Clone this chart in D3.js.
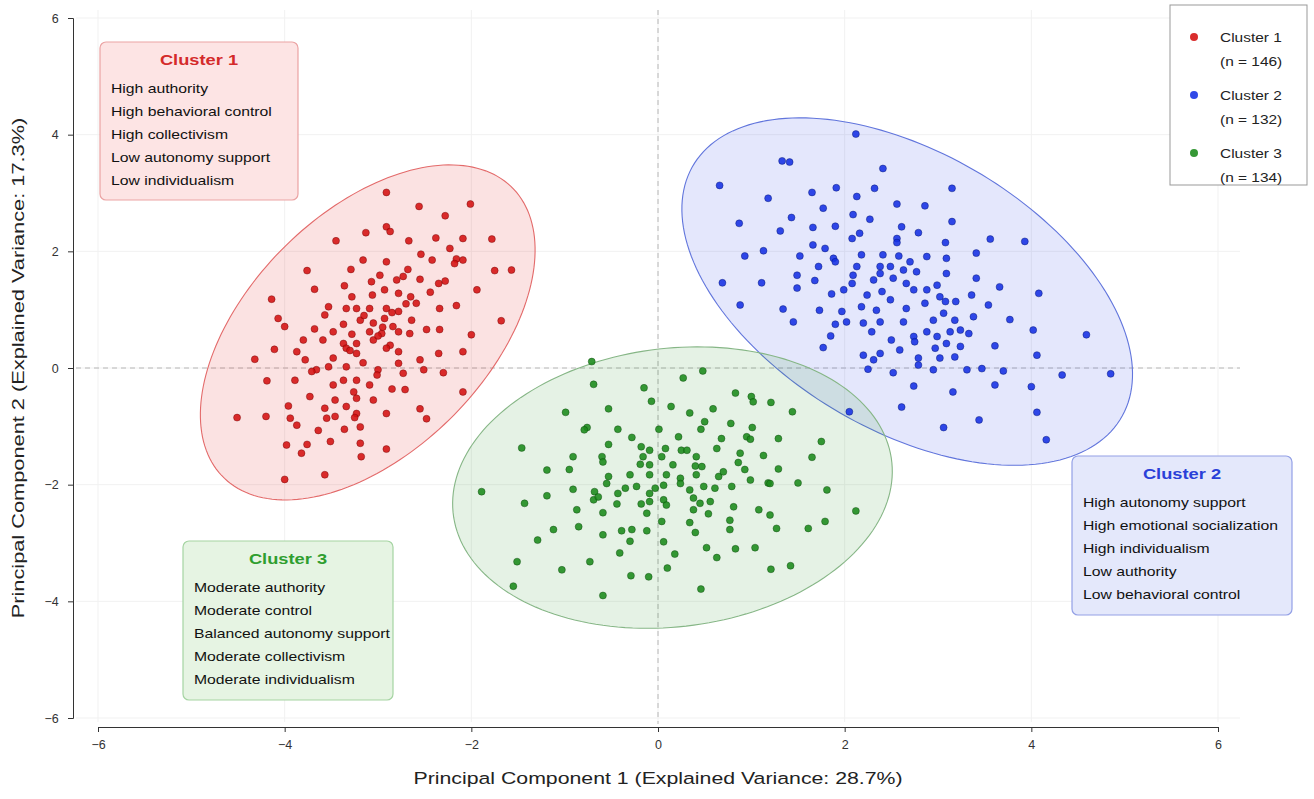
<!DOCTYPE html>
<html>
<head>
<meta charset="utf-8">
<script src="https://cdn.jsdelivr.net/npm/d3@7"></script>
<style>
  body { margin: 0; background: #fff; }
  svg { font-family: "Liberation Sans", Arial, sans-serif; }
</style>
</head>
<body>
<svg id="chart" width="1314" height="799"></svg>
<script>
// ---- data (PC1, PC2 scores) ----
const cluster1Points = [
  [-2.91, 3.01], [-2.56, 2.77], [-2.01, 2.81], [-2.28, 2.61], [-2.91, 2.42], [-2.87, 2.34], [-3.13, 2.32],
  [-3.45, 2.18], [-2.67, 2.18], [-2.38, 2.23], [-2.09, 2.22], [-1.78, 2.21], [-2.23, 2.05],
  [-3.16, 1.85], [-2.91, 1.82], [-2.54, 1.95], [-2.42, 1.85], [-2.16, 1.87], [-2.09, 1.85], [-2.18, 1.79],
  [-3.76, 1.67], [-3.29, 1.69], [-2.68, 1.69], [-1.75, 1.67], [-1.57, 1.68], [-2.98, 1.59], [-2.73, 1.57],
  [-2.80, 1.51], [-3.68, 1.35], [-3.36, 1.41], [-3.07, 1.48], [-2.55, 1.52], [-2.28, 1.49], [-2.35, 1.45],
  [-1.94, 1.34], [-3.28, 1.22], [-3.06, 1.25], [-2.93, 1.34], [-2.78, 1.28], [-2.65, 1.22], [-2.44, 1.30],
  [-4.14, 1.18], [-3.53, 1.05], [-3.34, 1.02], [-3.23, 1.02], [-3.09, 1.02], [-2.91, 1.02], [-2.78, 0.97],
  [-2.59, 1.11], [-2.34, 1.02], [-2.16, 1.07], [-4.07, 0.85], [-4.00, 0.71], [-3.57, 0.91], [-3.37, 0.75],
  [-3.19, 0.82], [-3.05, 0.77], [-2.93, 0.85], [-2.84, 0.71], [-2.64, 0.82], [-2.48, 0.66], [-2.34, 0.66],
  [-1.68, 0.81], [-3.68, 0.67], [-3.48, 0.62], [-3.28, 0.58], [-3.09, 0.62], [-2.96, 0.59], [-2.78, 0.62],
  [-2.00, 0.57], [-3.80, 0.48], [-3.59, 0.48], [-3.37, 0.42], [-3.23, 0.42], [-3.05, 0.48], [-2.87, 0.39],
  [-2.66, 0.59], [-4.32, 0.15], [-4.11, 0.32], [-3.87, 0.28], [-3.78, 0.14], [-3.48, 0.17], [-3.34, 0.34],
  [-3.23, 0.25], [-2.91, 0.34], [-2.78, 0.28], [-2.55, 0.14], [-2.35, 0.25], [-2.09, 0.28], [-3.66, -0.03],
  [-3.53, 0.02], [-3.34, 0.02], [-3.16, 0.09], [-3.00, -0.03], [-2.78, 0.08], [-2.73, -0.09], [-2.51, -0.03],
  [-2.30, -0.08], [-4.19, -0.22], [-3.89, -0.21], [-3.71, -0.06], [-3.37, -0.21], [-3.23, -0.21], [-3.01, -0.12],
  [-3.48, -0.29], [-3.26, -0.41], [-3.09, -0.29], [-2.85, -0.36], [-2.71, -0.37], [-2.09, -0.41], [-3.73, -0.49],
  [-3.46, -0.55], [-3.23, -0.52], [-3.05, -0.55], [-3.96, -0.65], [-3.57, -0.69], [-3.34, -0.66], [-2.55, -0.70],
  [-4.51, -0.85], [-4.20, -0.83], [-3.94, -0.86], [-3.87, -0.98], [-3.55, -0.86], [-3.46, -0.83], [-3.23, -0.78],
  [-3.25, -0.85], [-2.91, -0.78], [-2.48, -0.87], [-3.64, -1.07], [-3.36, -1.05], [-3.19, -1.01], [-3.98, -1.32],
  [-3.76, -1.31], [-3.51, -1.26], [-3.19, -1.29], [-2.91, -1.39], [-3.82, -1.46], [-3.18, -1.52], [-4.00, -1.91],
  [-3.57, -1.83], [-3.00, 0.55], [-2.95, 0.70], [-3.15, 0.90], [-2.85, 0.95], [-3.30, 0.30], [-2.70, 1.10]
];

const cluster2Points = [
  [2.12, 4.01], [1.33, 3.55], [1.41, 3.53], [2.41, 3.42], [0.66, 3.13], [1.91, 3.09], [2.32, 3.08], [3.15, 3.08],
  [1.65, 3.01], [2.13, 2.94], [1.18, 2.91], [2.56, 2.81], [2.86, 2.78], [1.77, 2.74], [2.09, 2.63], [2.27, 2.55],
  [1.43, 2.58], [3.15, 2.51], [0.87, 2.48], [1.31, 2.35], [1.66, 2.41], [1.90, 2.43], [2.61, 2.42], [2.79, 2.32],
  [2.08, 2.22], [2.16, 2.31], [2.56, 2.22], [2.56, 2.15], [3.08, 2.15], [3.56, 2.21], [3.93, 2.17], [1.66, 2.11],
  [1.79, 2.05], [0.93, 1.92], [1.13, 2.01], [1.52, 1.92], [1.88, 1.88], [1.90, 1.82], [2.18, 1.94], [2.41, 1.94],
  [2.58, 1.92], [2.70, 1.82], [2.88, 1.91], [3.09, 1.88], [3.41, 1.97], [1.72, 1.74], [2.13, 1.74], [2.38, 1.74],
  [2.49, 1.74], [1.49, 1.59], [2.09, 1.59], [2.38, 1.62], [2.63, 1.68], [2.77, 1.65], [3.09, 1.62], [0.69, 1.46],
  [1.11, 1.46], [1.49, 1.37], [1.68, 1.50], [2.08, 1.45], [2.31, 1.51], [2.52, 1.54], [2.66, 1.45], [2.99, 1.42],
  [3.41, 1.54], [3.66, 1.39], [1.86, 1.27], [1.99, 1.34], [2.24, 1.25], [2.40, 1.31], [2.49, 1.17], [2.74, 1.34],
  [2.88, 1.34], [3.02, 1.22], [3.36, 1.25], [4.08, 1.28], [0.88, 1.08], [1.34, 1.01], [1.73, 0.99], [1.97, 0.97],
  [2.18, 1.05], [2.34, 0.99], [2.66, 1.02], [2.86, 1.11], [3.08, 1.14], [3.19, 1.14], [3.54, 1.08], [1.45, 0.79],
  [1.90, 0.75], [2.02, 0.79], [2.20, 0.77], [2.38, 0.79], [2.63, 0.79], [2.95, 0.82], [3.06, 0.94], [3.18, 0.82],
  [3.38, 0.88], [3.77, 0.83], [4.02, 0.65], [4.59, 0.57], [1.85, 0.55], [2.29, 0.62], [2.50, 0.48], [2.74, 0.54],
  [2.88, 0.62], [2.99, 0.54], [3.13, 0.62], [3.24, 0.65], [3.33, 0.59], [1.77, 0.35], [2.59, 0.31], [2.75, 0.45],
  [2.97, 0.34], [3.09, 0.42], [3.24, 0.37], [3.61, 0.38], [2.20, 0.22], [2.38, 0.25], [2.31, 0.14], [2.79, 0.17],
  [3.02, 0.17], [3.18, 0.19], [4.06, 0.22], [2.25, -0.02], [2.52, -0.08], [2.79, 0.05], [2.95, -0.03], [3.31, -0.03],
  [3.47, -0.01], [3.70, -0.05], [4.33, -0.12], [4.85, -0.10], [2.74, -0.31], [3.16, -0.41], [3.61, -0.29],
  [4.00, -0.32], [2.61, -0.67], [4.06, -0.76], [3.06, -1.02], [3.44, -0.89], [4.16, -1.23], [2.05, -0.75]
];

const cluster3Points = [
  [-0.71, 0.11], [0.48, -0.05], [0.27, -0.17], [-0.69, -0.28], [-0.15, -0.34], [0.83, -0.43], [1.00, -0.49],
  [1.02, -0.58], [-0.07, -0.57], [1.21, -0.59], [-0.53, -0.70], [0.14, -0.66], [0.59, -0.70], [1.44, -0.75],
  [-0.99, -0.76], [0.34, -0.77], [0.50, -0.92], [0.78, -0.95], [-0.76, -1.02], [-0.79, -1.06], [-0.43, -1.05],
  [0.01, -1.05], [0.46, -1.05], [1.01, -1.02], [-0.28, -1.19], [0.22, -1.18], [0.68, -1.21], [0.95, -1.18],
  [0.99, -1.22], [1.29, -1.21], [1.75, -1.26], [-1.46, -1.37], [-0.53, -1.31], [-0.18, -1.35], [-0.09, -1.41],
  [0.08, -1.38], [0.25, -1.41], [0.31, -1.41], [0.63, -1.38], [0.88, -1.46], [1.13, -1.50], [-0.91, -1.52],
  [-0.60, -1.52], [-0.59, -1.61], [-0.16, -1.52], [0.04, -1.52], [0.41, -1.52], [1.65, -1.53], [-1.19, -1.75],
  [-0.95, -1.74], [-0.19, -1.65], [-0.09, -1.66], [0.16, -1.66], [0.40, -1.68], [0.47, -1.69], [0.86, -1.62],
  [0.93, -1.74], [1.29, -1.73], [-0.53, -1.86], [-0.30, -1.83], [-0.09, -1.83], [0.09, -1.83], [0.24, -1.89],
  [0.41, -1.83], [0.65, -1.86], [0.70, -1.78], [0.99, -1.92], [1.18, -1.97], [1.50, -1.97], [-1.89, -2.12],
  [-0.91, -2.08], [-0.68, -2.12], [-0.55, -1.98], [-0.43, -2.15], [-0.35, -2.06], [-0.23, -2.03], [-0.09, -2.15],
  [-0.03, -2.06], [0.06, -2.01], [0.24, -1.98], [0.34, -2.09], [0.49, -2.03], [0.61, -2.06], [0.79, -2.03],
  [1.20, -1.98], [1.81, -2.09], [-1.43, -2.32], [-1.19, -2.19], [-0.69, -2.26], [-0.64, -2.21], [-0.44, -2.33],
  [-0.18, -2.33], [-0.09, -2.29], [0.06, -2.26], [0.09, -2.35], [0.38, -2.23], [0.45, -2.32], [0.56, -2.29],
  [0.81, -2.38], [1.08, -2.43], [-0.87, -2.43], [-0.59, -2.48], [-0.12, -2.49], [0.38, -2.43], [0.54, -2.50],
  [1.20, -2.52], [2.12, -2.45], [0.77, -2.61], [0.34, -2.65], [1.79, -2.63], [-1.12, -2.77], [-0.85, -2.72],
  [-0.39, -2.79], [-0.28, -2.77], [-0.12, -2.79], [0.04, -2.63], [0.40, -2.82], [0.77, -2.77], [1.27, -2.75],
  [1.61, -2.75], [-1.29, -2.95], [-0.59, -2.86], [-0.30, -2.97], [0.06, -2.98], [0.52, -3.08], [0.83, -3.10],
  [1.04, -3.08], [-0.41, -3.17], [0.18, -3.19], [0.63, -3.25], [-1.51, -3.32], [-0.73, -3.32], [-1.03, -3.46],
  [0.10, -3.43], [1.21, -3.45], [1.42, -3.39], [-0.29, -3.56], [-0.10, -3.58], [-1.55, -3.74], [0.46, -3.79],
  [-0.59, -3.90]
];

const clusterNames = ['Cluster 1', 'Cluster 2', 'Cluster 3'];
const clusterCounts = [146, 132, 134];
// confidence ellipses: center, semi-axes and rotation in data units
const ellipseCenters = [[-3.11, 0.61], [2.67, 1.31], [0.155, -2.05]];
const ellipseAxes = [[3.05, 1.47], [3.33, 1.90], [2.52, 2.24]];
const ellipseAngles = [67.4, 123, 50.9];

const profileTitles = ['Cluster 1', 'Cluster 2', 'Cluster 3'];
const profileLines = [
  ['High authority', 'High behavioral control', 'High collectivism', 'Low autonomy support', 'Low individualism'],
  ['High autonomy support', 'High emotional socialization', 'High individualism', 'Low authority', 'Low behavioral control'],
  ['Moderate authority', 'Moderate control', 'Balanced autonomy support', 'Moderate collectivism', 'Moderate individualism']
];
const tickValues = [-6, -4, -2, 0, 2, 4, 6];
const xLabel = 'Principal Component 1 (Explained Variance: 28.7%)';
const yLabel = 'Principal Component 2 (Explained Variance: 17.3%)';

// ---- style ----
const pointFill = ['#d41010', '#1430e4', '#1a8a1a'];
const pointEdge = ['#6e0000', '#00106a', '#0a440a'];
const ellFill = ['#dc1414', '#1e3ce6', '#289628'];
const ellStroke = ['#e36a6a', '#6175dc', '#86b686'];
const boxFill = ['#fde3e3', '#e3e7fb', '#e5f3e2'];
const boxStroke = ['#eba3a3', '#93a0e6', '#a5d4a2'];
const titleColor = ['#d42a2a', '#2a40d8', '#2f9e2f'];
// box anchors (top-left corner, px) and size
const boxPos = [[100, 42], [1072, 456], [183, 541]];
const boxSize = [[198, 158], [220, 159], [210, 159]];
// the figure's font is noticeably wider than Liberation Sans
const wide = 1.23;

const svg = d3.select('#chart');
const x = d3.scaleLinear().domain([-6, 6]).range([98, 1218]);
const y = d3.scaleLinear().domain([-6, 6]).range([718, 18]);

// text placed inside a horizontally stretched group
function wideText (parent, px, py, str, stretch, rot) {
  const g = parent.append('g')
    .attr('transform', 'translate(' + px + ',' + py + ')' + (rot ? ' rotate(' + rot + ')' : '') + ' scale(' + stretch + ',1)')
  return g.append('text').attr('x', 0).attr('y', 0).text(str)
}

// faint grid
const grid = svg.append('g');
grid.selectAll('line.gx').data(tickValues).enter().append('line')
  .attr('x1', d => x(d)).attr('x2', d => x(d)).attr('y1', 10).attr('y2', 722)
  .attr('stroke', '#f1f1f1').attr('stroke-width', 1);
grid.selectAll('line.gy').data(tickValues).enter().append('line')
  .attr('y1', d => y(d)).attr('y2', d => y(d)).attr('x1', 76).attr('x2', 1240)
  .attr('stroke', '#f1f1f1').attr('stroke-width', 1);

// reference lines at 0
svg.append('line').attr('x1', 76).attr('x2', 1240).attr('y1', y(0)).attr('y2', y(0))
  .attr('stroke', '#b0b0b0').attr('stroke-width', 0.9).attr('stroke-dasharray', '5,4');
svg.append('line').attr('x1', x(0)).attr('x2', x(0)).attr('y1', 10).attr('y2', 724)
  .attr('stroke', '#b0b0b0').attr('stroke-width', 0.9).attr('stroke-dasharray', '5,4');

// ellipses, sampled in data space then mapped through the scales
function ellipsePts (i) {
  const [cx, cy] = ellipseCenters[i]
  const [a, b] = ellipseAxes[i]
  const th = ellipseAngles[i] * Math.PI / 180
  return d3.range(0, 360, 2).map(function (deg) {
    const t = deg * Math.PI / 180
    const ex = cx + a * Math.cos(t) * Math.cos(th) - b * Math.sin(t) * Math.sin(th)
    const ey = cy + a * Math.cos(t) * Math.sin(th) + b * Math.sin(t) * Math.cos(th)
    return [x(ex), y(ey)]
  })
}
const lineGen = d3.line().curve(d3.curveLinearClosed);
[0, 1, 2].forEach(function (i) {
  svg.append('path').attr('d', lineGen(ellipsePts(i)))
    .attr('fill', ellFill[i]).attr('fill-opacity', 0.12)
    .attr('stroke', ellStroke[i]).attr('stroke-width', 1.1)
});

// points
const allPoints = [cluster1Points, cluster2Points, cluster3Points];
allPoints.forEach(function (pts, i) {
  svg.append('g').selectAll('circle').data(pts).enter().append('circle')
    .attr('cx', d => x(d[0])).attr('cy', d => y(d[1])).attr('r', 3.5)
    .attr('fill', pointFill[i]).attr('fill-opacity', 0.88)
    .attr('stroke', pointEdge[i]).attr('stroke-width', 0.6).attr('stroke-opacity', 0.7)
});

// profile boxes
profileTitles.forEach(function (title, i) {
  const g = svg.append('g').attr('transform', 'translate(' + boxPos[i][0] + ',' + boxPos[i][1] + ')')
  g.append('rect').attr('width', boxSize[i][0]).attr('height', boxSize[i][1])
    .attr('rx', 6).attr('ry', 6)
    .attr('fill', boxFill[i]).attr('fill-opacity', 0.95)
    .attr('stroke', boxStroke[i]).attr('stroke-width', 1.2)
  wideText(g, boxSize[i][0] / 2, 23, title, 1.26)
    .attr('text-anchor', 'middle').attr('font-size', 14.5).attr('font-weight', 'bold')
    .attr('fill', titleColor[i])
  profileLines[i].forEach(function (line, k) {
    wideText(g, 11, 51 + k * 23, line, wide).attr('font-size', 12.8).attr('fill', '#111')
  })
});

// legend
const leg = svg.append('g').attr('transform', 'translate(1170,5)');
leg.append('rect').attr('width', 137).attr('height', 180)
  .attr('fill', '#fff').attr('stroke', '#999').attr('stroke-width', 1);
clusterNames.forEach(function (name, i) {
  const yy = 32 + i * 58
  leg.append('circle').attr('cx', 24).attr('cy', yy).attr('r', 4)
    .attr('fill', pointFill[i]).attr('fill-opacity', 0.88)
  wideText(leg, 50, yy + 4.5, name, 1.19).attr('font-size', 13).attr('fill', '#222')
  wideText(leg, 50, yy + 28.5, '(n = ' + clusterCounts[i] + ')', 1.19).attr('font-size', 13).attr('fill', '#222')
});

// axes (offset spines)
const xAxis = svg.append('g').attr('transform', 'translate(0,727)')
  .call(d3.axisBottom(x).tickValues(tickValues).tickSizeOuter(0).tickSize(5).tickFormat(d3.format('d')));
const yAxis = svg.append('g').attr('transform', 'translate(73,0)')
  .call(d3.axisLeft(y).tickValues(tickValues).tickSizeOuter(0).tickSize(5).tickFormat(d3.format('d')));
[xAxis, yAxis].forEach(function (ax) {
  ax.select('.domain').attr('stroke', '#333').attr('stroke-width', 1)
  ax.selectAll('.tick line').attr('stroke', '#333')
  ax.selectAll('.tick text').attr('font-size', 12.5).attr('fill', '#333')
    .attr('font-family', '"Liberation Sans", Arial, sans-serif')
});
xAxis.selectAll('.tick text').attr('dy', '1.1em');
yAxis.selectAll('.tick text').attr('dx', '-0.5em');

wideText(svg, 658, 784, xLabel, 1.29)
  .attr('text-anchor', 'middle').attr('font-size', 16.5).attr('fill', '#222');
wideText(svg, 24, 368, yLabel, 1.32, -90)
  .attr('text-anchor', 'middle').attr('font-size', 16.5).attr('fill', '#222');
</script>
</body>
</html>
